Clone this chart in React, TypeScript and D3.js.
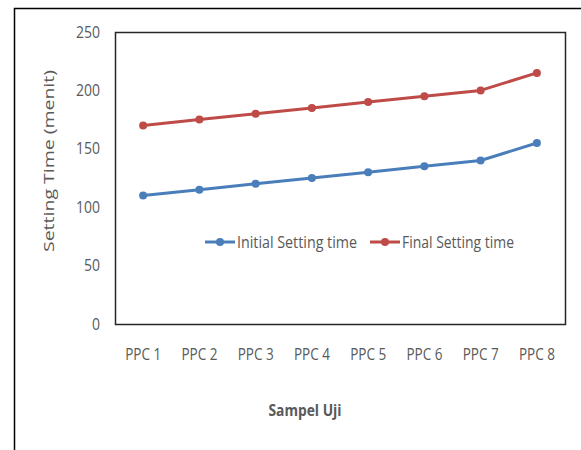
import React from "react";
import * as d3 from "d3";

const categories = ["PPC 1", "PPC 2", "PPC 3", "PPC 4", "PPC 5", "PPC 6", "PPC 7", "PPC 8"];
const initialSetting = [110, 115, 120, 125, 130, 135, 140, 155];
const finalSetting = [170, 175, 180, 185, 190, 195, 200, 215];
const yTicks = [0, 50, 100, 150, 200, 250];
const seriesNames = ["Initial Setting time", "Final Setting time"];
const seriesColors = ["#4A7EBB", "#BE4B48"];

const W = 581, H = 450;
const plot = { left: 115, top: 32, right: 565, bottom: 324 };
const FONT = "'Open Sans', sans-serif";
const fit = { lengthAdjust: "spacingAndGlyphs" as const };

export default function App() {
  const x = d3.scaleBand<string>().domain(categories).range([plot.left, plot.right]);
  const y = d3.scaleLinear().domain([0, 250]).range([plot.bottom, plot.top]);
  const cx = (i: number) => (x(categories[i]) as number) + x.bandwidth() / 2;
  const line = d3
    .line<number>()
    .x((_, i) => cx(i))
    .y((d) => y(d));
  const series = [initialSetting, finalSetting];
  const legendX = [205, 370];
  const legendLen = [120, 112];

  return (
    <svg width={W} height={H} style={{ position: "absolute", left: 0, top: 0 }}>
      <rect x={0} y={0} width={W} height={H} fill="#fff" />
      <rect x={14.5} y={8.5} width={W + 10} height={H + 10} fill="none" stroke="#000" strokeWidth={1.5} />
      <rect
        x={plot.left + 0.5}
        y={plot.top + 0.5}
        width={plot.right - plot.left}
        height={plot.bottom - plot.top}
        fill="none"
        stroke="#262626"
        strokeWidth={1.5}
      />
      {yTicks.map((t) => (
        <text
          key={t}
          x={100}
          y={y(t)}
          dy="0.35em"
          textAnchor="end"
          fontFamily={FONT}
          fontSize={16}
          fill="#595959"
          textLength={String(t).length * 8}
          {...fit}
        >
          {t}
        </text>
      ))}
      {categories.map((c, i) => (
        <text
          key={c}
          x={cx(i)}
          y={354}
          dy="0.35em"
          textAnchor="middle"
          fontFamily={FONT}
          fontSize={16}
          fill="#595959"
          textLength={36}
          {...fit}
        >
          {c}
        </text>
      ))}
      {series.map((s, k) => (
        <g key={k}>
          <path d={line(s) as string} fill="none" stroke={seriesColors[k]} strokeWidth={3} strokeLinejoin="round" />
          {s.map((v, i) => (
            <circle key={i} cx={cx(i)} cy={y(v)} r={4} fill={seriesColors[k]} />
          ))}
        </g>
      ))}
      {seriesNames.map((n, k) => (
        <g key={n}>
          <line x1={legendX[k]} x2={legendX[k] + 30} y1={242} y2={242} stroke={seriesColors[k]} strokeWidth={3} />
          <circle cx={legendX[k] + 15} cy={242} r={4} fill={seriesColors[k]} />
          <text
            x={legendX[k] + 32}
            y={242}
            dy="0.35em"
            fontFamily={FONT}
            fontSize={16}
            fill="#595959"
            textLength={legendLen[k]}
            {...fit}
          >
            {n}
          </text>
        </g>
      ))}
      <text
        x={305}
        y={410}
        dy="0.35em"
        textAnchor="middle"
        fontFamily={FONT}
        fontSize={16}
        fontWeight="bold"
        fill="#595959"
        textLength={73}
        {...fit}
      >
        Sampel Uji
      </text>
      <text
        transform={`translate(49,161) rotate(-90)`}
        textAnchor="middle"
        dy="0.35em"
        fontFamily={FONT}
        fontSize={15}
        fill="#595959"
        textLength={182}
        {...fit}
      >
        Setting Time (menit)
      </text>
    </svg>
  );
}
